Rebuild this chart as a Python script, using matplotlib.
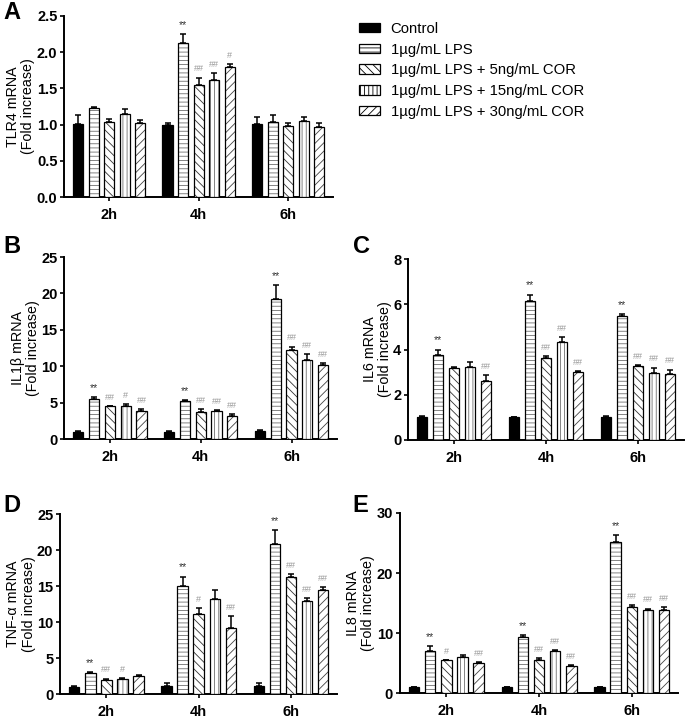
import numpy as np
import matplotlib
matplotlib.use("Agg")
import matplotlib.pyplot as plt
from matplotlib.patches import Patch

plt.rcParams['font.family'] = ['Liberation Sans', 'DejaVu Sans']
plt.rcParams['hatch.linewidth'] = 0.6

# groups / treatments
times = ["2h", "4h", "6h"]
groups = ["Control", "1µg/mL LPS", "1µg/mL LPS + 5ng/mL COR",
          "1µg/mL LPS + 15ng/mL COR", "1µg/mL LPS + 30ng/mL COR"]

# values: rows = treatment, cols = time
tlr4 = [[1.01, 1.00, 1.01], [1.23, 2.12, 1.04], [1.04, 1.55, 0.98],
        [1.15, 1.61, 1.05], [1.03, 1.79, 0.97]]
tlr4_err = [[0.13, 0.03, 0.09], [0.01, 0.13, 0.09], [0.04, 0.10, 0.05],
            [0.07, 0.10, 0.06], [0.04, 0.05, 0.05]]
tlr4_sig = [["", "", ""], ["", "**", ""], ["", "##", ""],
            ["", "##", ""], ["", "#", ""]]

il1b = [[1.0, 1.0, 1.1], [5.5, 5.2, 19.2], [4.5, 3.8, 12.3],
        [4.6, 3.9, 10.9], [3.9, 3.2, 10.2]]
il1b_err = [[0.1, 0.1, 0.1], [0.3, 0.15, 1.9], [0.1, 0.3, 0.4],
            [0.2, 0.1, 0.8], [0.2, 0.25, 0.2]]
il1b_sig = [["", "", ""], ["**", "**", "**"], ["##", "##", "##"],
            ["#", "##", "##"], ["##", "##", "##"]]

il6 = [[1.0, 1.0, 1.0], [3.75, 6.15, 5.5], [3.2, 3.62, 3.27],
       [3.25, 4.35, 2.95], [2.62, 3.0, 2.93]]
il6_err = [[0.05, 0.02, 0.05], [0.25, 0.28, 0.08], [0.03, 0.1, 0.05],
           [0.2, 0.2, 0.25], [0.25, 0.05, 0.18]]
il6_sig = [["", "", ""], ["**", "**", "**"], ["", "##", "##"],
           ["", "##", "##"], ["##", "##", "##"]]

tnfa = [[1.0, 1.1, 1.1], [2.95, 15.0, 20.8], [1.9, 11.1, 16.3],
        [2.1, 13.2, 12.9], [2.55, 9.2, 14.5]]
tnfa_err = [[0.15, 0.45, 0.45], [0.15, 1.3, 2.0], [0.25, 0.8, 0.4],
            [0.15, 1.3, 0.4], [0.15, 1.6, 0.4]]
tnfa_sig = [["", "", ""], ["**", "**", "**"], ["##", "#", "##"],
            ["#", "", "##"], ["", "##", "##"]]

il8 = [[1.0, 1.0, 1.0], [7.0, 9.4, 25.2], [5.5, 5.6, 14.3],
       [6.0, 7.1, 13.8], [5.0, 4.6, 13.8]]
il8_err = [[0.1, 0.05, 0.05], [0.8, 0.3, 1.1], [0.1, 0.3, 0.4],
           [0.3, 0.15, 0.3], [0.2, 0.1, 0.5]]
il8_sig = [["", "", ""], ["**", "**", "**"], ["#", "##", "##"],
           ["", "##", "##"], ["##", "##", "##"]]

facecolors = ["black", "white", "white", "white", "white"]
hatches = [None, "----", "\\\\\\\\", "||||", "////"]
hatch_colors = ["black", "#707070", "#333333", "#707070", "#444444"]

fig = plt.figure(figsize=(6.85, 7.2), dpi=100)


def panel(rect, vals, errs, sigs, ylabel, ymax, ystep, fmt, letter, letter_xy):
    ax = fig.add_axes(rect)
    x = np.arange(len(times))
    off = 0.174
    w = 0.112
    for i in range(len(groups)):
        xi = x + (i - 2) * off
        # hatch drawn in its own colour, then the black outline on top
        ax.bar(xi, vals[i], width=w, color=facecolors[i],
               edgecolor=hatch_colors[i], hatch=hatches[i], linewidth=0,
               zorder=3)
        ax.bar(xi, vals[i], width=w, fill=False, edgecolor="black",
               linewidth=0.9, zorder=3)
        ax.errorbar(xi, vals[i], yerr=[np.zeros(3), errs[i]], fmt="none",
                    ecolor="black", elinewidth=1.1, capsize=2.5,
                    capthick=1.1, zorder=2)
        for j in range(3):
            s = sigs[i][j]
            if not s:
                continue
            top = vals[i][j] + errs[i][j]
            if s == "**":
                ax.annotate(s, (xi[j], top), xytext=(0, 3),
                            textcoords="offset points", ha="center",
                            va="bottom", fontsize=7.5, color="#333333")
            else:
                ax.annotate(s, (xi[j], top), xytext=(0, 3),
                            textcoords="offset points", ha="center",
                            va="bottom", fontsize=6.5, color="#9a9a9a")
    ax.set_xlim(-0.5, 2.5)
    ax.set_ylim(0, ymax)
    ticks = np.arange(0, ymax + ystep / 2, ystep)
    ax.set_yticks(ticks)
    ax.set_yticklabels([fmt.format(t) for t in ticks],
                       fontweight="bold", fontsize=10.5)
    ax.set_xticks(x)
    ax.set_xticklabels(times, fontweight="bold", fontsize=10.5)
    ax.spines["top"].set_visible(False)
    ax.spines["right"].set_visible(False)
    ax.spines["left"].set_linewidth(1.4)
    ax.spines["bottom"].set_linewidth(1.4)
    ax.tick_params(axis="y", width=1.2, length=3, pad=2)
    ax.tick_params(axis="x", width=1.2, length=3, pad=5)
    ax.set_ylabel(ylabel, fontsize=10.3, linespacing=1.1, labelpad=1)
    fig.text(letter_xy[0], letter_xy[1], letter, fontsize=17,
             fontweight="bold", ha="left", va="center")
    return ax


panel([0.094, 0.726, 0.392, 0.252], tlr4, tlr4_err, tlr4_sig,
      "TLR4 mRNA\n(Fold increase)", 2.5, 0.5, "{:.1f}", "A", (0.005, 0.982))
panel([0.094, 0.390, 0.398, 0.253], il1b, il1b_err, il1b_sig,
      "IL1β mRNA\n(Fold increase)", 25, 5, "{:.0f}", "B", (0.005, 0.657))
panel([0.596, 0.389, 0.403, 0.251], il6, il6_err, il6_sig,
      "IL6 mRNA\n(Fold increase)", 8, 2, "{:.0f}", "C", (0.515, 0.657))
panel([0.088, 0.036, 0.404, 0.250], tnfa, tnfa_err, tnfa_sig,
      "TNF-α mRNA\n(Fold increase)", 25, 5, "{:.0f}", "D", (0.005, 0.298))
panel([0.584, 0.037, 0.406, 0.2505], il8, il8_err, il8_sig,
      "IL8 mRNA\n(Fold increase)", 30, 10, "{:.0f}", "E", (0.515, 0.298))

handles = [Patch(facecolor=facecolors[i], edgecolor="black", hatch=hatches[i],
                 linewidth=0.9, label=groups[i]) for i in range(len(groups))]
fig.legend(handles=handles, loc="upper left", bbox_to_anchor=(0.505, 0.988),
           frameon=False, fontsize=10.7, handlelength=1.4, handleheight=0.6,
           handletextpad=0.7, labelspacing=0.45)

fig.savefig("out.png", dpi=100)
